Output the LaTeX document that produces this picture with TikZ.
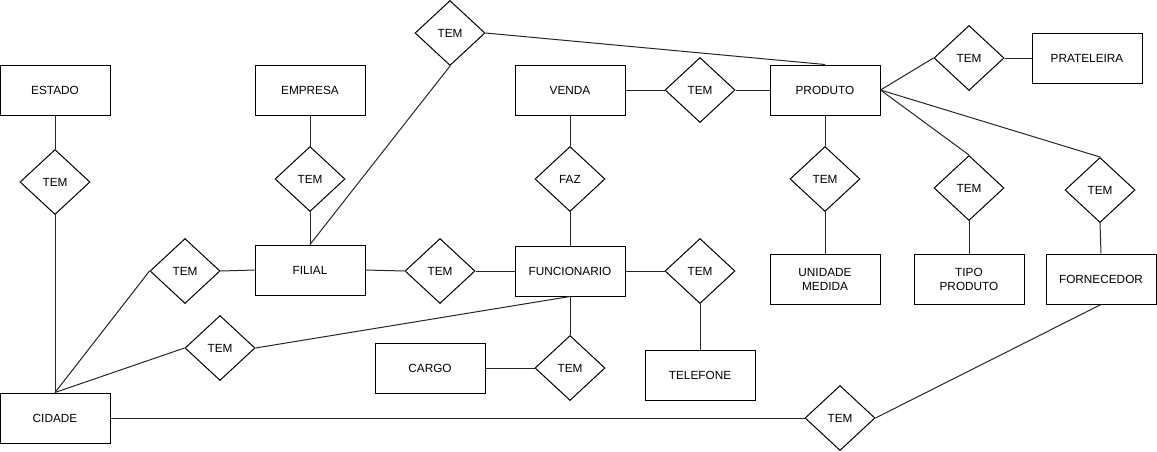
\documentclass[tikz,border=0pt]{standalone}
\usepackage{fontspec}
\setmainfont{Liberation Sans}
\usetikzlibrary{shapes.geometric}
\begin{document}
\begin{tikzpicture}[x=1pt,y=-1pt,
  line width=1pt,
  every node/.style={font=\fontsize{11.8}{14}\selectfont, text=black},
  entity/.style={draw=black, rectangle, minimum width=110pt, minimum height=50pt, inner sep=0pt, align=center},
  rel/.style={draw=black, diamond, minimum width=70pt, minimum height=65pt, inner sep=0pt},
  link/.style={draw=black!85}]
\useasboundingbox (0,0) rectangle (1157,451);

% entities
\node[entity] (estado)     at (55,90)    {ESTADO};
\node[entity] (empresa)    at (310,90)   {EMPRESA};
\node[entity] (venda)      at (570,90)   {VENDA};
\node[entity] (produto)    at (825,90)   {PRODUTO};
\node[entity] (prateleira) at (1087,58)  {PRATELEIRA};
\node[entity] (filial)     at (310,270)  {FILIAL};
\node[entity] (func)       at (570,271)  {FUNCIONARIO};
\node[entity] (unidade)    at (825,279)  {UNIDADE\\MEDIDA};
\node[entity] (tipo)       at (969,279)  {TIPO\\PRODUTO};
\node[entity] (fornecedor) at (1101,279) {FORNECEDOR};
\node[entity] (cargo)      at (430,368)  {CARGO};
\node[entity] (telefone)   at (700,375)  {TELEFONE};
\node[entity] (cidade)     at (55,418)   {CIDADE};

% relationships
\node[rel] (rEstCid)   at (55,182)   {TEM};
\node[rel] (rEmpFil)   at (310,179)  {TEM};
\node[rel] (rFilProd)  at (450,33)   {TEM};
\node[rel] (faz)       at (570,179)  {FAZ};
\node[rel] (rVenProd)  at (700,90)   {TEM};
\node[rel] (rProdPrat) at (969,58)   {TEM};
\node[rel] (rProdUni)  at (825,179)  {TEM};
\node[rel] (rProdTipo) at (969,188)  {TEM};
\node[rel] (rProdForn) at (1100,190) {TEM};
\node[rel] (rCidFil)   at (185,271)  {TEM};
\node[rel] (rFilFunc)  at (440,271)  {TEM};
\node[rel] (rFuncTel)  at (700,271)  {TEM};
\node[rel] (rCidFunc)  at (220,348)  {TEM};
\node[rel] (rFuncCar)  at (570,368)  {TEM};
\node[rel] (rCidForn)  at (840,418)  {TEM};

% connectors
\draw[link] (estado.south) -- (rEstCid.north);
\draw[link] (rEstCid.south) -- (cidade.north);
\draw[link] (empresa.south) -- (rEmpFil.north);
\draw[link] (rEmpFil.south) -- (filial.north);
\draw[link] (filial.north) -- (rFilProd.south);
\draw[link] (rFilProd.east) -- (produto.north);
\draw[link] (venda.south) -- (faz.north);
\draw[link] (faz.south) -- (func.north);
\draw[link] (venda.east) -- (rVenProd.west);
\draw[link] (rVenProd.east) -- (produto.west);
\draw[link] (produto.east) -- (rProdPrat.west);
\draw[link] (rProdPrat.east) -- (prateleira.west);
\draw[link] (produto.south) -- (rProdUni.north);
\draw[link] (rProdUni.south) -- (unidade.north);
\draw[link] (produto.east) -- (rProdTipo.north);
\draw[link] (rProdTipo.south) -- (tipo.north);
\draw[link] (produto.east) -- (rProdForn.north);
\draw[link] (rProdForn.south) -- (fornecedor.north);
\draw[link] (cidade.north) -- (rCidFil.west);
\draw[link] (rCidFil.east) -- (filial.west);
\draw[link] (cidade.north) -- (rCidFunc.west);
\draw[link] (rCidFunc.east) -- (func.south);
\draw[link] (filial.east) -- (rFilFunc.west);
\draw[link] (rFilFunc.east) -- (func.west);
\draw[link] (func.east) -- (rFuncTel.west);
\draw[link] (rFuncTel.south) -- (telefone.north);
\draw[link] (func.south) -- (rFuncCar.north);
\draw[link] (rFuncCar.west) -- (cargo.east);
\draw[link] (cidade.east) -- (rCidForn.west);
\draw[link] (rCidForn.east) -- (fornecedor.south);
\end{tikzpicture}
\end{document}
